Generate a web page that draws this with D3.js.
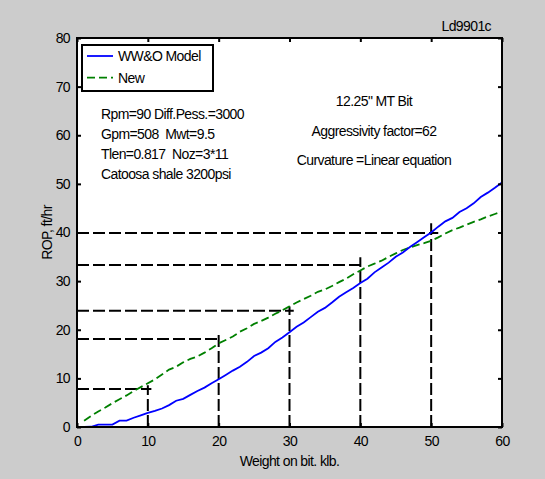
<!DOCTYPE html>
<html>
<head>
<meta charset="utf-8">
<script src="https://cdn.jsdelivr.net/npm/d3@7"></script>
<style>
  html, body { margin: 0; padding: 0; background: #cccccc; }
  svg { display: block; }
  text { font-family: "Liberation Sans", Arial, sans-serif; font-size: 14px; letter-spacing: -0.6px; fill: #000; white-space: pre; }
</style>
</head>
<body>
<script>
// Weight on bit (klb) sample points
const weight = d3.range(1, 61);

// ROP predicted by the WW&O model (ft/hr)
const ropModel = [
  0.0, 0.05, 0.5, 0.5, 0.5, 1.3, 1.3, 1.9, 2.4, 2.9,
  3.3, 3.8, 4.5, 5.4, 5.8, 6.6, 7.4, 8.1, 9.0, 9.8,
  10.7, 11.6, 12.4, 13.4, 14.6, 15.3, 16.2, 17.5, 18.4, 19.5,
  20.6, 21.5, 22.6, 23.7, 24.5, 25.6, 26.8, 27.7, 28.6, 29.6,
  30.5, 31.8, 32.8, 33.8, 35.0, 35.9, 37.0, 38.0, 39.0, 40.0,
  41.2, 42.3, 43.0, 44.2, 45.0, 46.0, 47.3, 48.2, 49.2, 50.3
];

// ROP predicted by the new model (ft/hr)
const ropNew = [
  1.3, 2.3, 3.2, 4.0, 4.9, 5.7, 6.5, 7.4, 8.2, 9.0,
  9.8, 10.8, 11.8, 12.4, 13.3, 14.0, 14.5, 15.3, 16.2, 17.2,
  17.9, 18.6, 19.6, 20.3, 21.2, 21.8, 22.5, 23.3, 24.0, 24.8,
  25.6, 26.3, 27.0, 27.8, 28.3, 29.0, 29.8, 30.5, 31.4, 32.2,
  33.0, 33.6, 34.2, 35.0, 35.7, 36.4, 36.9, 37.4, 37.8, 38.3,
  39.0, 39.8, 40.5, 41.0, 41.6, 42.2, 42.7, 43.3, 43.8, 44.3
];

// Reference readings: WOB, ROP, end of the horizontal guide, top of the vertical guide
const refWob    = [10, 20, 30, 40, 50];
const refRop    = [7.8, 18.1, 23.9, 33.3, 39.9];
const refHEnd   = [10.5, 20, 30.6, 40.2, 51.0];
const refVTop   = [8.6, 19.2, 24.8, 34.9, 41.9];

const xTicks = [0, 10, 20, 30, 40, 50, 60];
const yTicks = [0, 10, 20, 30, 40, 50, 60, 70, 80];

const seriesNames = ["WW&O Model", "New"];
const paramLines = [
  "Rpm=90 Diff.Pess.=3000",
  "Gpm=508  Mwt=9.5",
  "Tlen=0.817  Noz=3*11",
  "Catoosa shale 3200psi"
];
const bitLines = [
  "12.25\" MT Bit",
  "Aggressivity factor=62",
  "Curvature =Linear equation"
];

const W = 545, H = 479;
const plot = { left: 77, right: 502, top: 38, bottom: 427 };

const svg = d3.select("body").append("svg").attr("width", W).attr("height", H);
svg.append("rect").attr("width", W).attr("height", H).attr("fill", "#cccccc");

const x = d3.scaleLinear().domain([0, 60]).range([plot.left, plot.right]);
const y = d3.scaleLinear().domain([0, 80]).range([plot.bottom, plot.top]);

svg.append("rect")
  .attr("x", plot.left).attr("y", plot.top)
  .attr("width", plot.right - plot.left).attr("height", plot.bottom - plot.top)
  .attr("fill", "#ffffff");

// Dashed guide lines
const guides = svg.append("g").attr("stroke", "#000").attr("stroke-width", 2)
  .attr("stroke-dasharray", "12,4").attr("fill", "none");
refWob.forEach((w, i) => {
  guides.append("line")
    .attr("x1", x(0)).attr("x2", x(refHEnd[i]))
    .attr("y1", y(refRop[i])).attr("y2", y(refRop[i]));
  guides.append("line")
    .attr("x1", x(w)).attr("x2", x(w))
    .attr("y1", y(0)).attr("y2", y(refVTop[i]));
});

// Model curves
const line = d3.line().x((d, i) => x(weight[i])).y(d => y(d));
svg.append("path").datum(ropNew).attr("d", line)
  .attr("fill", "none").attr("stroke", "#008000").attr("stroke-width", 1.8)
  .attr("stroke-dasharray", "8,4");
svg.append("path").datum(ropModel).attr("d", line)
  .attr("fill", "none").attr("stroke", "#0000ff").attr("stroke-width", 1.8);

// Axes with inward ticks on all four sides
const tickLen = 4;
const xb = svg.append("g").attr("transform", `translate(0,${plot.bottom})`)
  .call(d3.axisBottom(x).tickValues(xTicks).tickSizeInner(-tickLen).tickSizeOuter(0).tickPadding(9));
const xt = svg.append("g").attr("transform", `translate(0,${plot.top})`)
  .call(d3.axisTop(x).tickValues(xTicks).tickSizeInner(-tickLen).tickSizeOuter(0).tickFormat(""));
const yl = svg.append("g").attr("transform", `translate(${plot.left},0)`)
  .call(d3.axisLeft(y).tickValues(yTicks).tickSizeInner(-tickLen).tickSizeOuter(0).tickPadding(7));
const yr = svg.append("g").attr("transform", `translate(${plot.right},0)`)
  .call(d3.axisRight(y).tickValues(yTicks).tickSizeInner(-tickLen).tickSizeOuter(0).tickFormat(""));
[xb, xt, yl, yr].forEach(g => {
  g.select(".domain").remove();
  g.selectAll(".tick line").attr("stroke", "#000").attr("stroke-width", 2);
  g.selectAll(".tick text").attr("fill", "#000")
    .style("font-family", "Liberation Sans, Arial, sans-serif").style("font-size", "14px")
    .style("letter-spacing", "-0.6px");
});

svg.append("rect")
  .attr("x", plot.left).attr("y", plot.top)
  .attr("width", plot.right - plot.left).attr("height", plot.bottom - plot.top)
  .attr("fill", "none").attr("stroke", "#000").attr("stroke-width", 2);

// Axis titles
svg.append("text").attr("x", (plot.left + plot.right) / 2).attr("y", 466)
  .attr("text-anchor", "middle").text("Weight on bit. klb.");
svg.append("text").attr("transform", `translate(52,${(plot.top + plot.bottom) / 2}) rotate(-90)`)
  .attr("text-anchor", "middle").text("ROP, ft/hr");
svg.append("text").attr("x", 491).attr("y", 31).attr("text-anchor", "end").text("Ld9901c");

// Legend
const leg = svg.append("g");
leg.append("rect").attr("x", 82).attr("y", 45).attr("width", 131).attr("height", 46)
  .attr("fill", "#fff").attr("stroke", "#000").attr("stroke-width", 2);
const legColors = ["#0000ff", "#008000"];
const legDash = [null, "8,4"];
seriesNames.forEach((name, i) => {
  const ly = 56 + i * 21.7;
  leg.append("line").attr("x1", 87).attr("x2", 113).attr("y1", ly).attr("y2", ly)
    .attr("stroke", legColors[i]).attr("stroke-width", 1.8).attr("stroke-dasharray", legDash[i]);
  leg.append("text").attr("x", 118).attr("y", ly + 5).text(name);
});

// Test conditions
paramLines.forEach((t, i) => {
  svg.append("text").attr("x", 101).attr("y", 119 + i * 20).text(t);
});
bitLines.forEach((t, i) => {
  svg.append("text").attr("x", 374).attr("y", 106 + i * 29.5).attr("text-anchor", "middle").text(t);
});
</script>
</body>
</html>
